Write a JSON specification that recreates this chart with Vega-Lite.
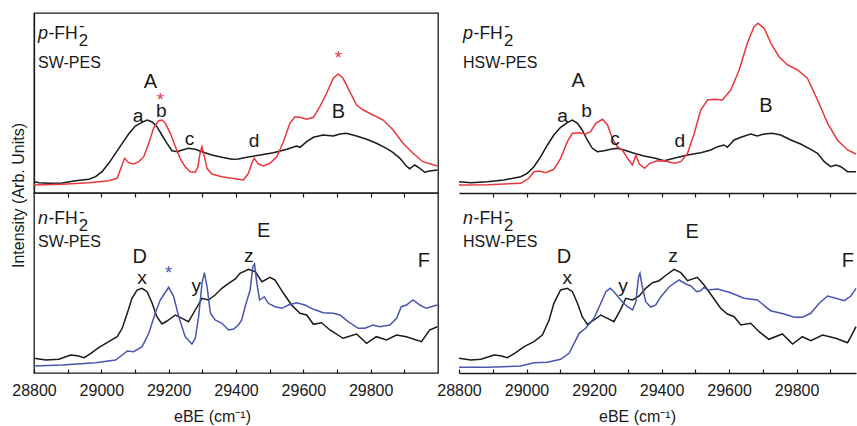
{
  "$schema": "https://vega.github.io/schema/vega-lite/v6.json",
  "padding": {"left": 9, "top": 12, "right": 0, "bottom": 0},
  "bounds": "flush",
  "columns": 2,
  "spacing": {"row": 0, "column": 21},
  "config": {
    "font": "Liberation Sans",
    "view": {"stroke": "#1a1a1a", "strokeWidth": 1.3},
    "axis": {"grid": false, "domainColor": "#1a1a1a", "tickColor": "#1a1a1a", "labelColor": "#1a1a1a", "titleColor": "#1a1a1a", "labelFont": "Liberation Sans", "titleFont": "Liberation Sans", "labelFontSize": 16, "titleFontSize": 16, "titleFontWeight": "normal", "domainWidth": 1.3, "tickWidth": 1.2},
    "line": {"strokeWidth": 1.5}
  },
  "datasets": {
    "curves": [
      {"panel":"tl","series":"exp","eBE":28800,"I":11.3},{"panel":"tl","series":"exp","eBE":28815,"I":10.3},{"panel":"tl","series":"exp","eBE":28844,"I":9.7},{"panel":"tl","series":"exp","eBE":28884,"I":10},{"panel":"tl","series":"exp","eBE":28923,"I":12.3},{"panel":"tl","series":"exp","eBE":28963,"I":13.7},{"panel":"tl","series":"exp","eBE":28983,"I":16.3},{"panel":"tl","series":"exp","eBE":29002,"I":21.3},{"panel":"tl","series":"exp","eBE":29022,"I":29.7},{"panel":"tl","series":"exp","eBE":29042,"I":39.7},{"panel":"tl","series":"exp","eBE":29062,"I":49.7},{"panel":"tl","series":"exp","eBE":29081,"I":59},{"panel":"tl","series":"exp","eBE":29101,"I":67},{"panel":"tl","series":"exp","eBE":29121,"I":70.7},{"panel":"tl","series":"exp","eBE":29136,"I":73},{"panel":"tl","series":"exp","eBE":29151,"I":71},{"panel":"tl","series":"exp","eBE":29165,"I":66.3},{"panel":"tl","series":"exp","eBE":29180,"I":58},{"panel":"tl","series":"exp","eBE":29195,"I":49.7},{"panel":"tl","series":"exp","eBE":29210,"I":42.3},{"panel":"tl","series":"exp","eBE":29225,"I":41.3},{"panel":"tl","series":"exp","eBE":29240,"I":43},{"panel":"tl","series":"exp","eBE":29259,"I":44.7},{"panel":"tl","series":"exp","eBE":29279,"I":43.7},{"panel":"tl","series":"exp","eBE":29299,"I":41.3},{"panel":"tl","series":"exp","eBE":29328,"I":38},{"panel":"tl","series":"exp","eBE":29358,"I":35.7},{"panel":"tl","series":"exp","eBE":29388,"I":33.7},{"panel":"tl","series":"exp","eBE":29407,"I":34},{"panel":"tl","series":"exp","eBE":29432,"I":35.7},{"panel":"tl","series":"exp","eBE":29472,"I":38},{"panel":"tl","series":"exp","eBE":29511,"I":40.3},{"panel":"tl","series":"exp","eBE":29551,"I":43.7},{"panel":"tl","series":"exp","eBE":29580,"I":47},{"panel":"tl","series":"exp","eBE":29590,"I":45.7},{"panel":"tl","series":"exp","eBE":29610,"I":51.3},{"panel":"tl","series":"exp","eBE":29630,"I":55.7},{"panel":"tl","series":"exp","eBE":29659,"I":58},{"panel":"tl","series":"exp","eBE":29689,"I":57},{"panel":"tl","series":"exp","eBE":29709,"I":59},{"panel":"tl","series":"exp","eBE":29728,"I":59.7},{"panel":"tl","series":"exp","eBE":29758,"I":57},{"panel":"tl","series":"exp","eBE":29788,"I":53.7},{"panel":"tl","series":"exp","eBE":29817,"I":49.7},{"panel":"tl","series":"exp","eBE":29847,"I":44.7},{"panel":"tl","series":"exp","eBE":29867,"I":40.3},{"panel":"tl","series":"exp","eBE":29887,"I":34.7},{"panel":"tl","series":"exp","eBE":29906,"I":27},{"panel":"tl","series":"exp","eBE":29916,"I":24.3},{"panel":"tl","series":"exp","eBE":29931,"I":28},{"panel":"tl","series":"exp","eBE":29946,"I":24.7},{"panel":"tl","series":"exp","eBE":29961,"I":20.7},{"panel":"tl","series":"exp","eBE":29975,"I":22},{"panel":"tl","series":"exp","eBE":29998,"I":23},
      {"panel":"tl","series":"p-sim","eBE":28800,"I":8},{"panel":"tl","series":"p-sim","eBE":28884,"I":8.7},{"panel":"tl","series":"p-sim","eBE":28963,"I":10.3},{"panel":"tl","series":"p-sim","eBE":29022,"I":12.3},{"panel":"tl","series":"p-sim","eBE":29047,"I":14.7},{"panel":"tl","series":"p-sim","eBE":29056,"I":23},{"panel":"tl","series":"p-sim","eBE":29069,"I":34.7},{"panel":"tl","series":"p-sim","eBE":29081,"I":30.3},{"panel":"tl","series":"p-sim","eBE":29096,"I":29},{"panel":"tl","series":"p-sim","eBE":29111,"I":31.3},{"panel":"tl","series":"p-sim","eBE":29126,"I":36.3},{"panel":"tl","series":"p-sim","eBE":29141,"I":49.7},{"panel":"tl","series":"p-sim","eBE":29155,"I":64.7},{"panel":"tl","series":"p-sim","eBE":29170,"I":72.3},{"panel":"tl","series":"p-sim","eBE":29180,"I":73},{"panel":"tl","series":"p-sim","eBE":29190,"I":69.7},{"panel":"tl","series":"p-sim","eBE":29205,"I":59.7},{"panel":"tl","series":"p-sim","eBE":29220,"I":46.3},{"panel":"tl","series":"p-sim","eBE":29234,"I":34.7},{"panel":"tl","series":"p-sim","eBE":29249,"I":26.3},{"panel":"tl","series":"p-sim","eBE":29264,"I":21.3},{"panel":"tl","series":"p-sim","eBE":29279,"I":20.7},{"panel":"tl","series":"p-sim","eBE":29287,"I":26.3},{"panel":"tl","series":"p-sim","eBE":29294,"I":41.3},{"panel":"tl","series":"p-sim","eBE":29299,"I":46.3},{"panel":"tl","series":"p-sim","eBE":29306,"I":36.3},{"panel":"tl","series":"p-sim","eBE":29314,"I":24.7},{"panel":"tl","series":"p-sim","eBE":29328,"I":19},{"panel":"tl","series":"p-sim","eBE":29358,"I":16.3},{"panel":"tl","series":"p-sim","eBE":29388,"I":14.7},{"panel":"tl","series":"p-sim","eBE":29422,"I":13},{"panel":"tl","series":"p-sim","eBE":29437,"I":19.7},{"panel":"tl","series":"p-sim","eBE":29447,"I":29.7},{"panel":"tl","series":"p-sim","eBE":29454,"I":34.7},{"panel":"tl","series":"p-sim","eBE":29466,"I":29},{"panel":"tl","series":"p-sim","eBE":29481,"I":27},{"panel":"tl","series":"p-sim","eBE":29501,"I":29.7},{"panel":"tl","series":"p-sim","eBE":29521,"I":36.3},{"panel":"tl","series":"p-sim","eBE":29541,"I":51.3},{"panel":"tl","series":"p-sim","eBE":29560,"I":69.7},{"panel":"tl","series":"p-sim","eBE":29575,"I":76.3},{"panel":"tl","series":"p-sim","eBE":29590,"I":75.7},{"panel":"tl","series":"p-sim","eBE":29610,"I":73.7},{"panel":"tl","series":"p-sim","eBE":29630,"I":75.7},{"panel":"tl","series":"p-sim","eBE":29649,"I":86.3},{"panel":"tl","series":"p-sim","eBE":29669,"I":99.7},{"panel":"tl","series":"p-sim","eBE":29689,"I":114.7},{"panel":"tl","series":"p-sim","eBE":29704,"I":119},{"panel":"tl","series":"p-sim","eBE":29718,"I":114.7},{"panel":"tl","series":"p-sim","eBE":29738,"I":101.3},{"panel":"tl","series":"p-sim","eBE":29758,"I":88},{"panel":"tl","series":"p-sim","eBE":29778,"I":83},{"panel":"tl","series":"p-sim","eBE":29807,"I":78},{"panel":"tl","series":"p-sim","eBE":29837,"I":73},{"panel":"tl","series":"p-sim","eBE":29867,"I":63},{"panel":"tl","series":"p-sim","eBE":29896,"I":49.7},{"panel":"tl","series":"p-sim","eBE":29926,"I":39.7},{"panel":"tl","series":"p-sim","eBE":29955,"I":31.3},{"panel":"tl","series":"p-sim","eBE":29998,"I":27},
      {"panel":"tr","series":"exp","eBE":28800,"I":11.3},{"panel":"tr","series":"exp","eBE":28835,"I":10.3},{"panel":"tr","series":"exp","eBE":28884,"I":11.3},{"panel":"tr","series":"exp","eBE":28933,"I":13},{"panel":"tr","series":"exp","eBE":28983,"I":16.3},{"panel":"tr","series":"exp","eBE":29002,"I":19.7},{"panel":"tr","series":"exp","eBE":29022,"I":26.3},{"panel":"tr","series":"exp","eBE":29042,"I":36.3},{"panel":"tr","series":"exp","eBE":29062,"I":48},{"panel":"tr","series":"exp","eBE":29081,"I":58},{"panel":"tr","series":"exp","eBE":29101,"I":65.7},{"panel":"tr","series":"exp","eBE":29121,"I":70.3},{"panel":"tr","series":"exp","eBE":29136,"I":73},{"panel":"tr","series":"exp","eBE":29151,"I":69.7},{"panel":"tr","series":"exp","eBE":29165,"I":63},{"panel":"tr","series":"exp","eBE":29180,"I":53},{"panel":"tr","series":"exp","eBE":29195,"I":44.7},{"panel":"tr","series":"exp","eBE":29210,"I":41.3},{"panel":"tr","series":"exp","eBE":29230,"I":42.3},{"panel":"tr","series":"exp","eBE":29249,"I":43.7},{"panel":"tr","series":"exp","eBE":29269,"I":44.7},{"panel":"tr","series":"exp","eBE":29289,"I":43},{"panel":"tr","series":"exp","eBE":29319,"I":39.7},{"panel":"tr","series":"exp","eBE":29348,"I":37},{"panel":"tr","series":"exp","eBE":29378,"I":35},{"panel":"tr","series":"exp","eBE":29408,"I":32.3},{"panel":"tr","series":"exp","eBE":29437,"I":34.7},{"panel":"tr","series":"exp","eBE":29477,"I":38},{"panel":"tr","series":"exp","eBE":29516,"I":40.3},{"panel":"tr","series":"exp","eBE":29546,"I":43},{"panel":"tr","series":"exp","eBE":29566,"I":46.3},{"panel":"tr","series":"exp","eBE":29585,"I":48},{"panel":"tr","series":"exp","eBE":29595,"I":45.7},{"panel":"tr","series":"exp","eBE":29615,"I":53},{"panel":"tr","series":"exp","eBE":29635,"I":55.7},{"panel":"tr","series":"exp","eBE":29664,"I":59},{"panel":"tr","series":"exp","eBE":29684,"I":57},{"panel":"tr","series":"exp","eBE":29704,"I":59},{"panel":"tr","series":"exp","eBE":29728,"I":59.7},{"panel":"tr","series":"exp","eBE":29753,"I":58},{"panel":"tr","series":"exp","eBE":29783,"I":53},{"panel":"tr","series":"exp","eBE":29812,"I":49},{"panel":"tr","series":"exp","eBE":29842,"I":43.7},{"panel":"tr","series":"exp","eBE":29862,"I":39.7},{"panel":"tr","series":"exp","eBE":29882,"I":31.3},{"panel":"tr","series":"exp","eBE":29901,"I":26.3},{"panel":"tr","series":"exp","eBE":29916,"I":28},{"panel":"tr","series":"exp","eBE":29931,"I":26.3},{"panel":"tr","series":"exp","eBE":29951,"I":21.3},{"panel":"tr","series":"exp","eBE":29976,"I":21.3},
      {"panel":"tr","series":"p-sim","eBE":28800,"I":8},{"panel":"tr","series":"p-sim","eBE":28884,"I":8.3},{"panel":"tr","series":"p-sim","eBE":28983,"I":9.7},{"panel":"tr","series":"p-sim","eBE":29007,"I":14.7},{"panel":"tr","series":"p-sim","eBE":29022,"I":21.3},{"panel":"tr","series":"p-sim","eBE":29037,"I":22},{"panel":"tr","series":"p-sim","eBE":29057,"I":20.3},{"panel":"tr","series":"p-sim","eBE":29081,"I":23.7},{"panel":"tr","series":"p-sim","eBE":29101,"I":34.7},{"panel":"tr","series":"p-sim","eBE":29121,"I":51.3},{"panel":"tr","series":"p-sim","eBE":29136,"I":59.7},{"panel":"tr","series":"p-sim","eBE":29156,"I":60.3},{"panel":"tr","series":"p-sim","eBE":29175,"I":59},{"panel":"tr","series":"p-sim","eBE":29190,"I":61.3},{"panel":"tr","series":"p-sim","eBE":29205,"I":69.7},{"panel":"tr","series":"p-sim","eBE":29225,"I":73.7},{"panel":"tr","series":"p-sim","eBE":29240,"I":68},{"panel":"tr","series":"p-sim","eBE":29254,"I":54.7},{"panel":"tr","series":"p-sim","eBE":29269,"I":46.3},{"panel":"tr","series":"p-sim","eBE":29284,"I":43},{"panel":"tr","series":"p-sim","eBE":29299,"I":34.7},{"panel":"tr","series":"p-sim","eBE":29314,"I":28},{"panel":"tr","series":"p-sim","eBE":29324,"I":38},{"panel":"tr","series":"p-sim","eBE":29334,"I":29},{"panel":"tr","series":"p-sim","eBE":29350,"I":24.7},{"panel":"tr","series":"p-sim","eBE":29365,"I":29.7},{"panel":"tr","series":"p-sim","eBE":29385,"I":32},{"panel":"tr","series":"p-sim","eBE":29408,"I":32.3},{"panel":"tr","series":"p-sim","eBE":29437,"I":29.7},{"panel":"tr","series":"p-sim","eBE":29457,"I":31.3},{"panel":"tr","series":"p-sim","eBE":29477,"I":39.7},{"panel":"tr","series":"p-sim","eBE":29497,"I":59.7},{"panel":"tr","series":"p-sim","eBE":29516,"I":83},{"panel":"tr","series":"p-sim","eBE":29536,"I":93},{"panel":"tr","series":"p-sim","eBE":29556,"I":93.7},{"panel":"tr","series":"p-sim","eBE":29580,"I":93},{"panel":"tr","series":"p-sim","eBE":29605,"I":103},{"panel":"tr","series":"p-sim","eBE":29630,"I":123},{"panel":"tr","series":"p-sim","eBE":29654,"I":149.7},{"panel":"tr","series":"p-sim","eBE":29674,"I":166.3},{"panel":"tr","series":"p-sim","eBE":29686,"I":169.7},{"panel":"tr","series":"p-sim","eBE":29704,"I":164.7},{"panel":"tr","series":"p-sim","eBE":29724,"I":149.7},{"panel":"tr","series":"p-sim","eBE":29748,"I":136.3},{"panel":"tr","series":"p-sim","eBE":29773,"I":128},{"panel":"tr","series":"p-sim","eBE":29803,"I":123},{"panel":"tr","series":"p-sim","eBE":29832,"I":114.7},{"panel":"tr","series":"p-sim","eBE":29862,"I":93},{"panel":"tr","series":"p-sim","eBE":29892,"I":69.7},{"panel":"tr","series":"p-sim","eBE":29921,"I":53},{"panel":"tr","series":"p-sim","eBE":29951,"I":43},{"panel":"tr","series":"p-sim","eBE":29976,"I":39},
      {"panel":"bl","series":"exp","eBE":28800,"I":14.7},{"panel":"bl","series":"exp","eBE":28835,"I":13},{"panel":"bl","series":"exp","eBE":28874,"I":13.7},{"panel":"bl","series":"exp","eBE":28909,"I":18},{"panel":"bl","series":"exp","eBE":28929,"I":17.3},{"panel":"bl","series":"exp","eBE":28949,"I":15.3},{"panel":"bl","series":"exp","eBE":28969,"I":19.7},{"panel":"bl","series":"exp","eBE":28993,"I":25.7},{"panel":"bl","series":"exp","eBE":29022,"I":31.3},{"panel":"bl","series":"exp","eBE":29047,"I":36.3},{"panel":"bl","series":"exp","eBE":29062,"I":44.7},{"panel":"bl","series":"exp","eBE":29077,"I":59.7},{"panel":"bl","series":"exp","eBE":29091,"I":74.7},{"panel":"bl","series":"exp","eBE":29106,"I":83},{"panel":"bl","series":"exp","eBE":29121,"I":84.7},{"panel":"bl","series":"exp","eBE":29136,"I":81.3},{"panel":"bl","series":"exp","eBE":29151,"I":69.7},{"panel":"bl","series":"exp","eBE":29165,"I":56.3},{"panel":"bl","series":"exp","eBE":29180,"I":49},{"panel":"bl","series":"exp","eBE":29195,"I":52},{"panel":"bl","series":"exp","eBE":29220,"I":58},{"panel":"bl","series":"exp","eBE":29240,"I":54.7},{"panel":"bl","series":"exp","eBE":29259,"I":51.3},{"panel":"bl","series":"exp","eBE":29279,"I":63},{"panel":"bl","series":"exp","eBE":29299,"I":74.7},{"panel":"bl","series":"exp","eBE":29318,"I":73},{"panel":"bl","series":"exp","eBE":29338,"I":78},{"panel":"bl","series":"exp","eBE":29358,"I":84.7},{"panel":"bl","series":"exp","eBE":29378,"I":89.7},{"panel":"bl","series":"exp","eBE":29398,"I":94},{"panel":"bl","series":"exp","eBE":29412,"I":99.7},{"panel":"bl","series":"exp","eBE":29437,"I":103.7},{"panel":"bl","series":"exp","eBE":29457,"I":101.3},{"panel":"bl","series":"exp","eBE":29477,"I":91.3},{"panel":"bl","series":"exp","eBE":29501,"I":95.7},{"panel":"bl","series":"exp","eBE":29516,"I":93},{"panel":"bl","series":"exp","eBE":29541,"I":79.7},{"panel":"bl","series":"exp","eBE":29565,"I":68},{"panel":"bl","series":"exp","eBE":29590,"I":59.7},{"panel":"bl","series":"exp","eBE":29610,"I":58},{"panel":"bl","series":"exp","eBE":29630,"I":48.7},{"panel":"bl","series":"exp","eBE":29654,"I":50.3},{"panel":"bl","series":"exp","eBE":29679,"I":43},{"panel":"bl","series":"exp","eBE":29718,"I":34.7},{"panel":"bl","series":"exp","eBE":29758,"I":39},{"panel":"bl","series":"exp","eBE":29788,"I":29.7},{"panel":"bl","series":"exp","eBE":29817,"I":36.3},{"panel":"bl","series":"exp","eBE":29847,"I":33},{"panel":"bl","series":"exp","eBE":29877,"I":38},{"panel":"bl","series":"exp","eBE":29906,"I":36.3},{"panel":"bl","series":"exp","eBE":29951,"I":31.3},{"panel":"bl","series":"exp","eBE":29975,"I":43},{"panel":"bl","series":"exp","eBE":29998,"I":46.3},
      {"panel":"bl","series":"n-sim","eBE":28800,"I":7},{"panel":"bl","series":"n-sim","eBE":28884,"I":8},{"panel":"bl","series":"n-sim","eBE":28983,"I":10.3},{"panel":"bl","series":"n-sim","eBE":29042,"I":13},{"panel":"bl","series":"n-sim","eBE":29062,"I":18},{"panel":"bl","series":"n-sim","eBE":29077,"I":22},{"panel":"bl","series":"n-sim","eBE":29096,"I":21.3},{"panel":"bl","series":"n-sim","eBE":29121,"I":26.3},{"panel":"bl","series":"n-sim","eBE":29141,"I":39.7},{"panel":"bl","series":"n-sim","eBE":29160,"I":59.7},{"panel":"bl","series":"n-sim","eBE":29175,"I":73},{"panel":"bl","series":"n-sim","eBE":29185,"I":78},{"panel":"bl","series":"n-sim","eBE":29200,"I":85.7},{"panel":"bl","series":"n-sim","eBE":29215,"I":76.3},{"panel":"bl","series":"n-sim","eBE":29230,"I":56.3},{"panel":"bl","series":"n-sim","eBE":29249,"I":36.3},{"panel":"bl","series":"n-sim","eBE":29269,"I":29},{"panel":"bl","series":"n-sim","eBE":29279,"I":34.7},{"panel":"bl","series":"n-sim","eBE":29289,"I":56.3},{"panel":"bl","series":"n-sim","eBE":29299,"I":89.7},{"panel":"bl","series":"n-sim","eBE":29306,"I":100.3},{"panel":"bl","series":"n-sim","eBE":29314,"I":86.3},{"panel":"bl","series":"n-sim","eBE":29324,"I":59.7},{"panel":"bl","series":"n-sim","eBE":29338,"I":53},{"panel":"bl","series":"n-sim","eBE":29358,"I":49.7},{"panel":"bl","series":"n-sim","eBE":29378,"I":43},{"panel":"bl","series":"n-sim","eBE":29393,"I":44},{"panel":"bl","series":"n-sim","eBE":29407,"I":48},{"panel":"bl","series":"n-sim","eBE":29417,"I":53},{"panel":"bl","series":"n-sim","eBE":29427,"I":66.3},{"panel":"bl","series":"n-sim","eBE":29442,"I":83},{"panel":"bl","series":"n-sim","eBE":29450,"I":106.3},{"panel":"bl","series":"n-sim","eBE":29455,"I":109},{"panel":"bl","series":"n-sim","eBE":29462,"I":89.7},{"panel":"bl","series":"n-sim","eBE":29470,"I":73},{"panel":"bl","series":"n-sim","eBE":29484,"I":76.3},{"panel":"bl","series":"n-sim","eBE":29496,"I":69.7},{"panel":"bl","series":"n-sim","eBE":29516,"I":66.3},{"panel":"bl","series":"n-sim","eBE":29536,"I":64.7},{"panel":"bl","series":"n-sim","eBE":29556,"I":68},{"panel":"bl","series":"n-sim","eBE":29580,"I":70.3},{"panel":"bl","series":"n-sim","eBE":29605,"I":68},{"panel":"bl","series":"n-sim","eBE":29630,"I":63.7},{"panel":"bl","series":"n-sim","eBE":29659,"I":60.3},{"panel":"bl","series":"n-sim","eBE":29689,"I":59.7},{"panel":"bl","series":"n-sim","eBE":29709,"I":58},{"panel":"bl","series":"n-sim","eBE":29733,"I":51.3},{"panel":"bl","series":"n-sim","eBE":29763,"I":44.7},{"panel":"bl","series":"n-sim","eBE":29783,"I":44.7},{"panel":"bl","series":"n-sim","eBE":29807,"I":48},{"panel":"bl","series":"n-sim","eBE":29827,"I":46.3},{"panel":"bl","series":"n-sim","eBE":29857,"I":48},{"panel":"bl","series":"n-sim","eBE":29877,"I":54.7},{"panel":"bl","series":"n-sim","eBE":29891,"I":66.3},{"panel":"bl","series":"n-sim","eBE":29906,"I":68},{"panel":"bl","series":"n-sim","eBE":29926,"I":73},{"panel":"bl","series":"n-sim","eBE":29946,"I":68},{"panel":"bl","series":"n-sim","eBE":29965,"I":64.7},{"panel":"bl","series":"n-sim","eBE":29998,"I":68},
      {"panel":"br","series":"exp","eBE":28800,"I":14.7},{"panel":"br","series":"exp","eBE":28835,"I":13},{"panel":"br","series":"exp","eBE":28865,"I":13.7},{"panel":"br","series":"exp","eBE":28904,"I":18},{"panel":"br","series":"exp","eBE":28923,"I":17.3},{"panel":"br","series":"exp","eBE":28943,"I":15.3},{"panel":"br","series":"exp","eBE":28968,"I":20.3},{"panel":"br","series":"exp","eBE":28993,"I":26.3},{"panel":"br","series":"exp","eBE":29022,"I":31.3},{"panel":"br","series":"exp","eBE":29047,"I":38},{"panel":"br","series":"exp","eBE":29067,"I":53},{"panel":"br","series":"exp","eBE":29081,"I":69.7},{"panel":"br","series":"exp","eBE":29101,"I":83},{"panel":"br","series":"exp","eBE":29121,"I":84.7},{"panel":"br","series":"exp","eBE":29136,"I":81.3},{"panel":"br","series":"exp","eBE":29151,"I":69.7},{"panel":"br","series":"exp","eBE":29165,"I":56.3},{"panel":"br","series":"exp","eBE":29180,"I":48.7},{"panel":"br","series":"exp","eBE":29200,"I":53},{"panel":"br","series":"exp","eBE":29220,"I":58},{"panel":"br","series":"exp","eBE":29240,"I":54.7},{"panel":"br","series":"exp","eBE":29259,"I":51.3},{"panel":"br","series":"exp","eBE":29279,"I":63.7},{"panel":"br","series":"exp","eBE":29294,"I":74.7},{"panel":"br","series":"exp","eBE":29314,"I":73},{"panel":"br","series":"exp","eBE":29334,"I":77},{"panel":"br","series":"exp","eBE":29353,"I":84.7},{"panel":"br","series":"exp","eBE":29373,"I":90.3},{"panel":"br","series":"exp","eBE":29393,"I":92.3},{"panel":"br","series":"exp","eBE":29410,"I":97},{"panel":"br","series":"exp","eBE":29437,"I":103.7},{"panel":"br","series":"exp","eBE":29457,"I":100.3},{"panel":"br","series":"exp","eBE":29477,"I":92.3},{"panel":"br","series":"exp","eBE":29506,"I":95.7},{"panel":"br","series":"exp","eBE":29526,"I":88},{"panel":"br","series":"exp","eBE":29551,"I":76.3},{"panel":"br","series":"exp","eBE":29575,"I":64.7},{"panel":"br","series":"exp","eBE":29595,"I":59},{"panel":"br","series":"exp","eBE":29615,"I":56.3},{"panel":"br","series":"exp","eBE":29635,"I":48},{"panel":"br","series":"exp","eBE":29664,"I":49.7},{"panel":"br","series":"exp","eBE":29689,"I":41.3},{"panel":"br","series":"exp","eBE":29718,"I":33.7},{"panel":"br","series":"exp","eBE":29758,"I":39},{"panel":"br","series":"exp","eBE":29788,"I":29},{"panel":"br","series":"exp","eBE":29817,"I":36.3},{"panel":"br","series":"exp","eBE":29842,"I":32.3},{"panel":"br","series":"exp","eBE":29877,"I":38},{"panel":"br","series":"exp","eBE":29916,"I":34.7},{"panel":"br","series":"exp","eBE":29951,"I":30.3},{"panel":"br","series":"exp","eBE":29961,"I":36.3},{"panel":"br","series":"exp","eBE":29976,"I":46.3},
      {"panel":"br","series":"n-sim","eBE":28800,"I":5.7},{"panel":"br","series":"n-sim","eBE":28884,"I":5.7},{"panel":"br","series":"n-sim","eBE":28983,"I":7},{"panel":"br","series":"n-sim","eBE":29022,"I":10.3},{"panel":"br","series":"n-sim","eBE":29062,"I":10.7},{"panel":"br","series":"n-sim","eBE":29101,"I":13.7},{"panel":"br","series":"n-sim","eBE":29126,"I":19.7},{"panel":"br","series":"n-sim","eBE":29141,"I":29.7},{"panel":"br","series":"n-sim","eBE":29156,"I":39.7},{"panel":"br","series":"n-sim","eBE":29175,"I":44.7},{"panel":"br","series":"n-sim","eBE":29200,"I":54.7},{"panel":"br","series":"n-sim","eBE":29220,"I":69.7},{"panel":"br","series":"n-sim","eBE":29235,"I":81.3},{"panel":"br","series":"n-sim","eBE":29248,"I":84.7},{"panel":"br","series":"n-sim","eBE":29259,"I":81.3},{"panel":"br","series":"n-sim","eBE":29279,"I":73},{"panel":"br","series":"n-sim","eBE":29299,"I":66.3},{"panel":"br","series":"n-sim","eBE":29314,"I":63},{"panel":"br","series":"n-sim","eBE":29324,"I":71.3},{"panel":"br","series":"n-sim","eBE":29332,"I":96.3},{"panel":"br","series":"n-sim","eBE":29336,"I":99.7},{"panel":"br","series":"n-sim","eBE":29342,"I":88},{"panel":"br","series":"n-sim","eBE":29353,"I":71.3},{"panel":"br","series":"n-sim","eBE":29368,"I":66},{"panel":"br","series":"n-sim","eBE":29383,"I":68},{"panel":"br","series":"n-sim","eBE":29398,"I":76.3},{"panel":"br","series":"n-sim","eBE":29423,"I":86.3},{"panel":"br","series":"n-sim","eBE":29452,"I":93},{"panel":"br","series":"n-sim","eBE":29472,"I":89},{"panel":"br","series":"n-sim","eBE":29487,"I":87},{"panel":"br","series":"n-sim","eBE":29504,"I":81.3},{"panel":"br","series":"n-sim","eBE":29516,"I":82.3},{"panel":"br","series":"n-sim","eBE":29526,"I":85.7},{"panel":"br","series":"n-sim","eBE":29536,"I":83},{"panel":"br","series":"n-sim","eBE":29566,"I":84},{"panel":"br","series":"n-sim","eBE":29605,"I":80.3},{"panel":"br","series":"n-sim","eBE":29644,"I":74.7},{"panel":"br","series":"n-sim","eBE":29684,"I":73},{"panel":"br","series":"n-sim","eBE":29723,"I":62.3},{"panel":"br","series":"n-sim","eBE":29763,"I":59},{"panel":"br","series":"n-sim","eBE":29793,"I":55.7},{"panel":"br","series":"n-sim","eBE":29817,"I":55.7},{"panel":"br","series":"n-sim","eBE":29842,"I":59.7},{"panel":"br","series":"n-sim","eBE":29867,"I":69.7},{"panel":"br","series":"n-sim","eBE":29892,"I":77},{"panel":"br","series":"n-sim","eBE":29916,"I":74.7},{"panel":"br","series":"n-sim","eBE":29941,"I":72.3},{"panel":"br","series":"n-sim","eBE":29961,"I":77},{"panel":"br","series":"n-sim","eBE":29976,"I":84.7}
    ],
    "notes": [
      {"panel":"tl","kind":"italic","series":"exp","eBE":28812,"I":154.5,"label":"p"},
      {"panel":"tl","kind":"species","series":"exp","eBE":28843,"I":154.5,"label":"-FH"},
      {"panel":"tl","kind":"script","series":"exp","eBE":28933,"I":147,"label":"2"},
      {"panel":"tl","kind":"script","series":"exp","eBE":28934,"I":162,"label":"-"},
      {"panel":"tl","kind":"method","series":"exp","eBE":28812,"I":125.5,"label":"SW-PES"},
      {"panel":"tl","kind":"peak","series":"exp","eBE":29146,"I":104.7,"label":"A"},
      {"panel":"tl","kind":"peak","series":"exp","eBE":29704,"I":74.7,"label":"B"},
      {"panel":"tl","kind":"band","series":"exp","eBE":29109,"I":71.3,"label":"a"},
      {"panel":"tl","kind":"band","series":"exp","eBE":29178,"I":76.3,"label":"b"},
      {"panel":"tl","kind":"band","series":"exp","eBE":29262,"I":48,"label":"c"},
      {"panel":"tl","kind":"band","series":"exp","eBE":29454,"I":46.3,"label":"d"},
      {"panel":"tl","kind":"star","series":"p-sim","eBE":29175,"I":87.4,"label":"*"},
      {"panel":"tl","kind":"star","series":"p-sim","eBE":29704,"I":128.7,"label":"*"},
      {"panel":"tr","kind":"italic","series":"exp","eBE":28812,"I":154.5,"label":"p"},
      {"panel":"tr","kind":"species","series":"exp","eBE":28843,"I":154.5,"label":"-FH"},
      {"panel":"tr","kind":"script","series":"exp","eBE":28933,"I":147,"label":"2"},
      {"panel":"tr","kind":"script","series":"exp","eBE":28934,"I":162,"label":"-"},
      {"panel":"tr","kind":"method","series":"exp","eBE":28812,"I":125.5,"label":"HSW-PES"},
      {"panel":"tr","kind":"peak","series":"exp","eBE":29153,"I":106.3,"label":"A"},
      {"panel":"tr","kind":"peak","series":"exp","eBE":29709,"I":81.3,"label":"B"},
      {"panel":"tr","kind":"band","series":"exp","eBE":29107,"I":71.3,"label":"a"},
      {"panel":"tr","kind":"band","series":"exp","eBE":29178,"I":76.3,"label":"b"},
      {"panel":"tr","kind":"band","series":"exp","eBE":29262,"I":48,"label":"c"},
      {"panel":"tr","kind":"band","series":"exp","eBE":29454,"I":46.3,"label":"d"},
      {"panel":"bl","kind":"italic","series":"exp","eBE":28812,"I":149,"label":"n"},
      {"panel":"bl","kind":"species","series":"exp","eBE":28843,"I":149,"label":"-FH"},
      {"panel":"bl","kind":"script","series":"exp","eBE":28933,"I":142,"label":"2"},
      {"panel":"bl","kind":"script","series":"exp","eBE":28934,"I":156.5,"label":"-"},
      {"panel":"bl","kind":"method","series":"exp","eBE":28812,"I":126.3,"label":"SW-PES"},
      {"panel":"bl","kind":"peak","series":"exp","eBE":29114,"I":109.7,"label":"D"},
      {"panel":"bl","kind":"peak","series":"exp","eBE":29482,"I":135.7,"label":"E"},
      {"panel":"bl","kind":"peak","series":"exp","eBE":29958,"I":106.3,"label":"F"},
      {"panel":"bl","kind":"band","series":"exp","eBE":29121,"I":89,"label":"x"},
      {"panel":"bl","kind":"band","series":"exp","eBE":29282,"I":81.3,"label":"y"},
      {"panel":"bl","kind":"band","series":"exp","eBE":29438,"I":111.3,"label":"z"},
      {"panel":"bl","kind":"star","series":"n-sim","eBE":29200,"I":93.7,"label":"*"},
      {"panel":"br","kind":"italic","series":"exp","eBE":28812,"I":149,"label":"n"},
      {"panel":"br","kind":"species","series":"exp","eBE":28843,"I":149,"label":"-FH"},
      {"panel":"br","kind":"script","series":"exp","eBE":28933,"I":142,"label":"2"},
      {"panel":"br","kind":"script","series":"exp","eBE":28934,"I":156.5,"label":"-"},
      {"panel":"br","kind":"method","series":"exp","eBE":28812,"I":126.3,"label":"HSW-PES"},
      {"panel":"br","kind":"peak","series":"exp","eBE":29111,"I":109.7,"label":"D"},
      {"panel":"br","kind":"peak","series":"exp","eBE":29491,"I":134.7,"label":"E"},
      {"panel":"br","kind":"peak","series":"exp","eBE":29952,"I":106.3,"label":"F"},
      {"panel":"br","kind":"band","series":"exp","eBE":29121,"I":89,"label":"x"},
      {"panel":"br","kind":"band","series":"exp","eBE":29286,"I":81.3,"label":"y"},
      {"panel":"br","kind":"band","series":"exp","eBE":29434,"I":111.3,"label":"z"}
    ]
  },
  "concat": [
    {
      "width": 404, "height": 180,
      "layer": [
        {
          "data": {"name": "curves"},
          "transform": [{"filter": "datum.panel == 'tl'"}],
          "mark": {"type": "line", "strokeWidth": 1.5},
          "encoding": {
            "x": {"field": "eBE", "type": "quantitative", "scale": {"domain": [28800, 30000], "nice": false, "zero": false},
                  "axis": {"orient": "top", "values": [28900,29000,29100,29200,29300,29400,29500,29600,29700,29800,29900], "labels": false, "tickSize": -4, "domain": false, "title": null, "grid": false}},
            "y": {"field": "I", "type": "quantitative", "scale": {"domain": [0, 180], "nice": false, "zero": false},
                  "axis": {"orient": "left", "title": "Intensity (Arb. Units)", "titleX": -11, "titleY": 182, "titleAngle": 270, "titleAlign": "center", "titleBaseline": "alphabetic", "ticks": false, "labels": false, "domain": true, "grid": false}},
            "color": {"field": "series", "type": "nominal", "scale": {"domain": ["exp", "p-sim", "n-sim"], "range": ["#1a1a1a", "#e8383d", "#4a55ae"]}, "legend": null}
          }
        },
        {
          "data": {"name": "notes"},
          "transform": [{"filter": "datum.panel == 'tl' && (datum.kind == 'peak' || datum.kind == 'band' || datum.kind == 'star')"}],
          "mark": {"type": "text", "align": "center", "baseline": "alphabetic", "font": "Liberation Sans"},
          "encoding": {
            "x": {"field": "eBE", "type": "quantitative", "axis": null},
            "y": {"field": "I", "type": "quantitative"},
            "text": {"field": "label"},
            "size": {"field": "kind", "type": "ordinal", "scale": {"domain": ["peak", "band", "star", "species", "script", "method"], "range": [20, 16, 16, 18, 11, 16]}, "legend": null},
            "color": {"field": "series", "type": "nominal", "legend": null}
          }
        },
        {
          "data": {"name": "notes"},
          "transform": [{"filter": "datum.panel == 'tl' && (datum.kind == 'species' || datum.kind == 'script' || datum.kind == 'method')"}],
          "mark": {"type": "text", "align": "left", "baseline": "alphabetic", "font": "Liberation Sans", "color": "#1a1a1a"},
          "encoding": {
            "x": {"field": "eBE", "type": "quantitative", "axis": null},
            "y": {"field": "I", "type": "quantitative"},
            "text": {"field": "label"},
            "size": {"field": "kind", "type": "ordinal", "legend": null}
          }
        },
        {
          "data": {"name": "notes"},
          "transform": [{"filter": "datum.panel == 'tl' && datum.kind == 'italic'"}],
          "mark": {"type": "text", "align": "left", "baseline": "alphabetic", "font": "Liberation Sans", "fontStyle": "italic", "fontSize": 18, "color": "#1a1a1a"},
          "encoding": {
            "x": {"field": "eBE", "type": "quantitative", "axis": null},
            "y": {"field": "I", "type": "quantitative"},
            "text": {"field": "label"}
          }
        }
      ]
    },
    {
      "width": 397, "height": 180,
      "view": {"stroke": null},
      "layer": [
        {
          "data": {"name": "curves"},
          "transform": [{"filter": "datum.panel == 'tr'"}],
          "mark": {"type": "line", "strokeWidth": 1.5},
          "encoding": {
            "x": {"field": "eBE", "type": "quantitative", "scale": {"domain": [28800, 29976], "nice": false, "zero": false},
                  "axis": {"orient": "top", "values": [28900,29000,29100,29200,29300,29400,29500,29600,29700,29800,29900], "labels": false, "tickSize": -4, "domain": true, "title": null, "grid": false}},
            "y": {"field": "I", "type": "quantitative", "scale": {"domain": [0, 180], "nice": false, "zero": false},
                  "axis": {"title": null, "ticks": false, "labels": false, "domain": true, "grid": false}},
            "color": {"field": "series", "type": "nominal", "legend": null}
          }
        },
        {
          "data": {"name": "notes"},
          "transform": [{"filter": "datum.panel == 'tr' && (datum.kind == 'peak' || datum.kind == 'band' || datum.kind == 'star')"}],
          "mark": {"type": "text", "align": "center", "baseline": "alphabetic", "font": "Liberation Sans"},
          "encoding": {
            "x": {"field": "eBE", "type": "quantitative", "axis": null},
            "y": {"field": "I", "type": "quantitative", "axis": null},
            "text": {"field": "label"},
            "size": {"field": "kind", "type": "ordinal", "legend": null},
            "color": {"field": "series", "type": "nominal", "legend": null}
          }
        },
        {
          "data": {"name": "notes"},
          "transform": [{"filter": "datum.panel == 'tr' && (datum.kind == 'species' || datum.kind == 'script' || datum.kind == 'method')"}],
          "mark": {"type": "text", "align": "left", "baseline": "alphabetic", "font": "Liberation Sans", "color": "#1a1a1a"},
          "encoding": {
            "x": {"field": "eBE", "type": "quantitative", "axis": null},
            "y": {"field": "I", "type": "quantitative", "axis": null},
            "text": {"field": "label"},
            "size": {"field": "kind", "type": "ordinal", "legend": null}
          }
        },
        {
          "data": {"name": "notes"},
          "transform": [{"filter": "datum.panel == 'tr' && datum.kind == 'italic'"}],
          "mark": {"type": "text", "align": "left", "baseline": "alphabetic", "font": "Liberation Sans", "fontStyle": "italic", "fontSize": 18, "color": "#1a1a1a"},
          "encoding": {
            "x": {"field": "eBE", "type": "quantitative", "axis": null},
            "y": {"field": "I", "type": "quantitative", "axis": null},
            "text": {"field": "label"}
          }
        }
      ]
    },
    {
      "width": 404, "height": 180,
      "resolve": {"axis": {"x": "independent"}},
      "layer": [
        {
          "data": {"name": "curves"},
          "transform": [{"filter": "datum.panel == 'bl'"}],
          "mark": {"type": "line", "strokeWidth": 1.5},
          "encoding": {
            "x": {"field": "eBE", "type": "quantitative", "scale": {"domain": [28800, 30000], "nice": false, "zero": false},
                  "axis": {"orient": "bottom", "values": [28800,28900,29000,29100,29200,29300,29400,29500,29600,29700,29800,29900], "format": "d", "labelExpr": "datum.value % 200 == 0 ? datum.label : ''", "tickSize": -4, "labelPadding": 26, "labelBaseline": "alphabetic", "labelFlush": false, "labelOverlap": false, "domain": false, "title": "eBE (cm⁻¹)", "titleX": 178, "titleY": 48, "titleAlign": "center", "titleBaseline": "alphabetic", "grid": false}},
            "y": {"field": "I", "type": "quantitative", "scale": {"domain": [0, 180], "nice": false, "zero": false}, "axis": null},
            "color": {"field": "series", "type": "nominal", "legend": null}
          }
        },
        {
          "data": {"name": "notes"},
          "transform": [{"filter": "datum.panel == 'bl' && (datum.kind == 'peak' || datum.kind == 'band' || datum.kind == 'star')"}],
          "mark": {"type": "text", "align": "center", "baseline": "alphabetic", "font": "Liberation Sans"},
          "encoding": {
            "x": {"field": "eBE", "type": "quantitative", "axis": {"orient": "top", "values": [28900,29000,29100,29200,29300,29400,29500,29600,29700,29800,29900], "labels": false, "tickSize": -4, "domain": false, "title": null, "grid": false}},
            "y": {"field": "I", "type": "quantitative", "axis": null},
            "text": {"field": "label"},
            "size": {"field": "kind", "type": "ordinal", "legend": null},
            "color": {"field": "series", "type": "nominal", "legend": null}
          }
        },
        {
          "data": {"name": "notes"},
          "transform": [{"filter": "datum.panel == 'bl' && (datum.kind == 'species' || datum.kind == 'script' || datum.kind == 'method')"}],
          "mark": {"type": "text", "align": "left", "baseline": "alphabetic", "font": "Liberation Sans", "color": "#1a1a1a"},
          "encoding": {
            "x": {"field": "eBE", "type": "quantitative", "axis": null},
            "y": {"field": "I", "type": "quantitative", "axis": null},
            "text": {"field": "label"},
            "size": {"field": "kind", "type": "ordinal", "legend": null}
          }
        },
        {
          "data": {"name": "notes"},
          "transform": [{"filter": "datum.panel == 'bl' && datum.kind == 'italic'"}],
          "mark": {"type": "text", "align": "left", "baseline": "alphabetic", "font": "Liberation Sans", "fontStyle": "italic", "fontSize": 18, "color": "#1a1a1a"},
          "encoding": {
            "x": {"field": "eBE", "type": "quantitative", "axis": null},
            "y": {"field": "I", "type": "quantitative", "axis": null},
            "text": {"field": "label"}
          }
        }
      ]
    },
    {
      "width": 397, "height": 180,
      "view": {"stroke": null},
      "resolve": {"axis": {"x": "independent"}},
      "layer": [
        {
          "data": {"name": "curves"},
          "transform": [{"filter": "datum.panel == 'br'"}],
          "mark": {"type": "line", "strokeWidth": 1.5},
          "encoding": {
            "x": {"field": "eBE", "type": "quantitative", "scale": {"domain": [28800, 29976], "nice": false, "zero": false},
                  "axis": {"orient": "bottom", "values": [28800,28900,29000,29100,29200,29300,29400,29500,29600,29700,29800,29900], "format": "d", "labelExpr": "datum.value % 200 == 0 ? datum.label : ''", "tickSize": -4, "labelPadding": 26, "labelBaseline": "alphabetic", "labelFlush": false, "labelOverlap": false, "domain": true, "title": "eBE (cm⁻¹)", "titleX": 178, "titleY": 48, "titleAlign": "center", "titleBaseline": "alphabetic", "grid": false}},
            "y": {"field": "I", "type": "quantitative", "scale": {"domain": [0, 180], "nice": false, "zero": false},
                  "axis": {"title": null, "ticks": false, "labels": false, "domain": true, "grid": false}},
            "color": {"field": "series", "type": "nominal", "legend": null}
          }
        },
        {
          "data": {"name": "notes"},
          "transform": [{"filter": "datum.panel == 'br' && (datum.kind == 'peak' || datum.kind == 'band' || datum.kind == 'star')"}],
          "mark": {"type": "text", "align": "center", "baseline": "alphabetic", "font": "Liberation Sans"},
          "encoding": {
            "x": {"field": "eBE", "type": "quantitative", "axis": {"orient": "top", "values": [28900,29000,29100,29200,29300,29400,29500,29600,29700,29800,29900], "labels": false, "tickSize": -4, "domain": true, "title": null, "grid": false}},
            "y": {"field": "I", "type": "quantitative", "axis": null},
            "text": {"field": "label"},
            "size": {"field": "kind", "type": "ordinal", "legend": null},
            "color": {"field": "series", "type": "nominal", "legend": null}
          }
        },
        {
          "data": {"name": "notes"},
          "transform": [{"filter": "datum.panel == 'br' && (datum.kind == 'species' || datum.kind == 'script' || datum.kind == 'method')"}],
          "mark": {"type": "text", "align": "left", "baseline": "alphabetic", "font": "Liberation Sans", "color": "#1a1a1a"},
          "encoding": {
            "x": {"field": "eBE", "type": "quantitative", "axis": null},
            "y": {"field": "I", "type": "quantitative", "axis": null},
            "text": {"field": "label"},
            "size": {"field": "kind", "type": "ordinal", "legend": null}
          }
        },
        {
          "data": {"name": "notes"},
          "transform": [{"filter": "datum.panel == 'br' && datum.kind == 'italic'"}],
          "mark": {"type": "text", "align": "left", "baseline": "alphabetic", "font": "Liberation Sans", "fontStyle": "italic", "fontSize": 18, "color": "#1a1a1a"},
          "encoding": {
            "x": {"field": "eBE", "type": "quantitative", "axis": null},
            "y": {"field": "I", "type": "quantitative", "axis": null},
            "text": {"field": "label"}
          }
        }
      ]
    }
  ]
}
